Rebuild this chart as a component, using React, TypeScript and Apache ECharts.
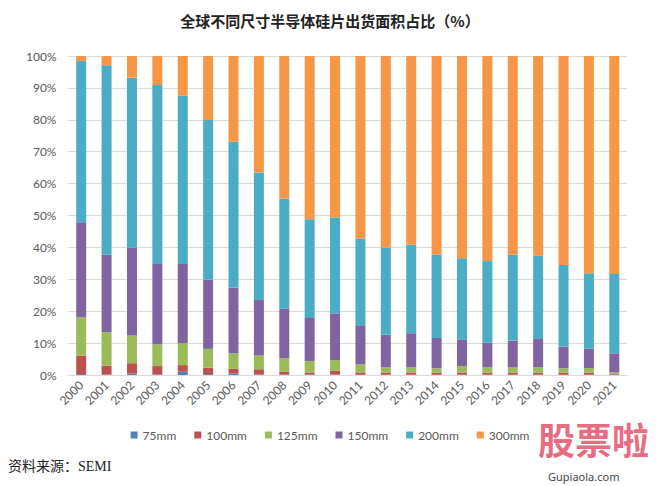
import React, { useEffect, useRef } from "react";
import * as echarts from "echarts";

const years = ["2000","2001","2002","2003","2004","2005","2006","2007","2008","2009","2010","2011","2012","2013","2014","2015","2016","2017","2018","2019","2020","2021"];
const s75 = [0.3,0.2,0.5,0.2,1.0,0.3,0.5,0.2,0.2,0.2,0.2,0.1,0.1,0.1,0.1,0.1,0.1,0.1,0.1,0.1,0.1,0.1];
const s100 = [5.8,2.7,3.2,2.6,2.1,2.0,1.5,1.6,0.8,0.6,1.1,0.7,0.7,0.7,0.6,0.7,0.6,0.6,0.6,0.6,0.6,0.2];
const s125 = [11.9,10.5,8.7,6.8,6.9,5.9,4.8,4.3,4.2,3.6,3.4,2.5,1.6,1.6,1.4,2.0,1.7,1.7,1.7,1.4,1.5,0.5];
const s150 = [29.9,24.3,27.5,25.2,24.8,21.7,20.6,17.4,15.6,13.5,14.6,12.3,10.2,10.7,9.5,8.2,7.8,8.4,8.9,6.8,6.0,6.0];
const s200 = [50.5,59.4,53.3,56.1,52.8,50.0,45.7,40.0,34.5,30.9,30.1,27.2,27.3,27.7,26.2,25.6,25.5,26.9,26.1,25.6,23.7,24.9];
const s300 = [1.6,2.9,6.8,9.1,12.4,20.1,26.9,36.5,44.7,51.2,50.6,57.2,60.1,59.2,62.2,63.4,64.3,62.3,62.6,65.5,68.1,68.3];
const seriesNames = ["75mm","100mm","125mm","150mm","200mm","300mm"];
const seriesColors = ["#4F81BD","#C0504D","#9BBB59","#8064A2","#4BACC6","#F79646"];
const yTicks = [0,10,20,30,40,50,60,70,80,90,100];

export default function App() {
  const ref = useRef<HTMLDivElement>(null);
  useEffect(() => {
    if (!ref.current) return;
    const chart = echarts.init(ref.current, undefined, { renderer: "svg" });
    const dataSets = [s75, s100, s125, s150, s200, s300];
    chart.setOption({
      animation: false,
      backgroundColor: "#ffffff",
      title: {
        text: "全球不同尺寸半导体硅片出货面积占比（%）",
        left: "center",
        top: 8,
        textStyle: { fontFamily: "Noto Sans CJK SC", fontSize: 15, fontWeight: "bold", color: "#222222" },
      },
      legend: {
        data: seriesNames,
        bottom: 40,
        left: "center",
        itemWidth: 7,
        itemHeight: 7,
        itemGap: 18,
        icon: "rect",
        textStyle: { fontFamily: "Lato", fontSize: 12, color: "#595959" },
      },
      grid: { left: 68.5, right: 33, top: 56, bottom: 111, containLabel: false },
      xAxis: {
        type: "category",
        data: years,
        axisLine: { lineStyle: { color: "#D9D9D9" } },
        axisTick: { show: false },
        axisLabel: { rotate: 45, interval: 0, margin: 8, fontFamily: "Lato", fontSize: 12, color: "#595959" },
      },
      yAxis: {
        type: "value",
        min: yTicks[0],
        max: yTicks[yTicks.length - 1],
        interval: 10,
        axisLine: { show: false },
        axisTick: { show: false },
        splitLine: { lineStyle: { color: "#D9D9D9" } },
        axisLabel: { formatter: "{value}%", margin: 12, fontFamily: "Lato", fontSize: 12, color: "#595959" },
      },
      series: seriesNames.map((name, i) => ({
        name,
        type: "bar",
        stack: "total",
        barWidth: 10,
        itemStyle: { color: seriesColors[i] },
        data: dataSets[i],
      })),
      graphic: [
        {
          type: "text",
          left: 8,
          top: 459,
          style: { text: "资料来源：SEMI", font: "14px 'Liberation Serif', 'Noto Sans CJK SC'", fill: "#222222" },
        },
        {
          type: "text",
          left: 538,
          top: 420,
          style: { text: "股票啦", font: "bold 37px 'Noto Sans CJK SC'", fill: "#E8506A", opacity: 0.85 },
        },
        {
          type: "text",
          left: 548,
          top: 471,
          style: { text: "Gupiaola.com", font: "11px 'Noto Sans'", fill: "#444444" },
        },
      ],
    });
    return () => chart.dispose();
  }, []);
  return <div ref={ref} style={{ position: "fixed", left: 0, top: 0, width: 660, height: 486 }} />;
}
